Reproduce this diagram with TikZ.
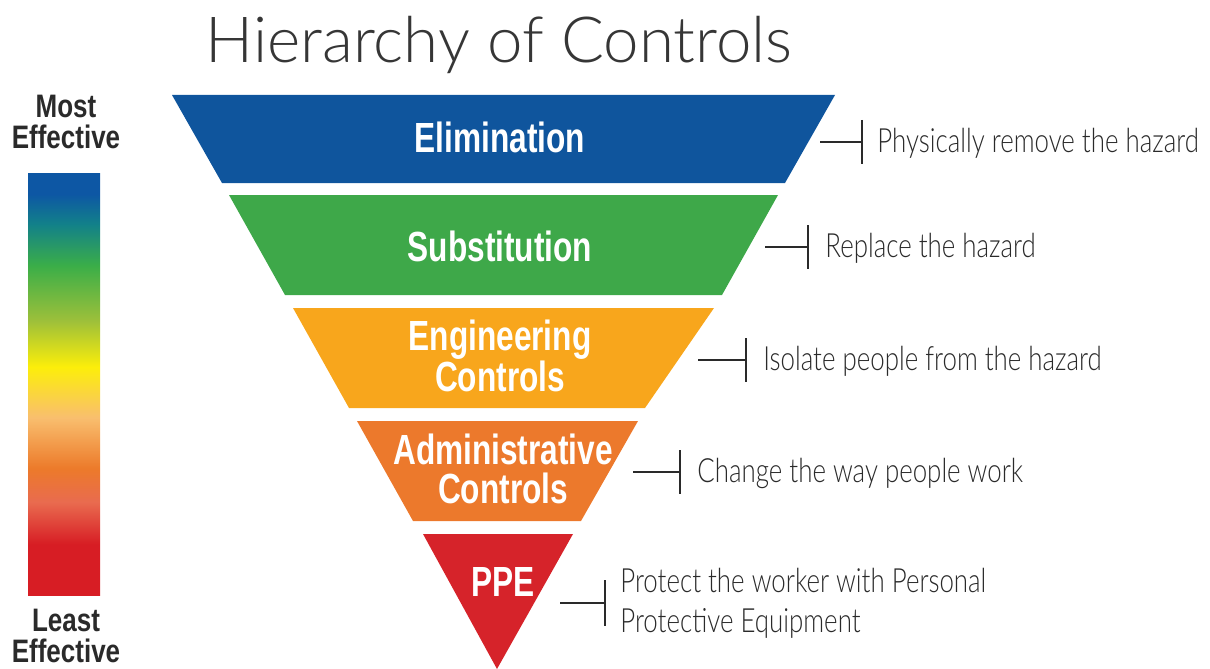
\documentclass[tikz,border=0pt]{standalone}
\usepackage{fontspec}
\setmainfont{Liberation Sans}
\newfontfamily\titlefont{Lato Light}
\newfontfamily\bandfont[FakeStretch = 0.75]{Liberation Sans}
\newfontfamily\sidefont[FakeStretch = 0.8]{Liberation Sans}
\newfontfamily\descfont[FakeStretch = 0.775]{Lato Light}

\definecolor{elimblue}{HTML}{0F559D}
\definecolor{substgreen}{HTML}{3EA849}
\definecolor{enggold}{HTML}{F8A61C}
\definecolor{adminorange}{HTML}{EC792C}
\definecolor{ppered}{HTML}{D6232A}
\definecolor{titlegray}{HTML}{363636}
\definecolor{sidegray}{HTML}{2A2A2A}
\definecolor{bracketgray}{HTML}{2A2A2A}

\definecolor{barblue}{HTML}{0D57A4}
\definecolor{barteal}{HTML}{12808A}
\definecolor{bargreen}{HTML}{3BAE48}
\definecolor{barlime}{HTML}{9DC03A}
\definecolor{baryellow}{HTML}{FCEE0A}
\definecolor{barlight}{HTML}{F9BE6E}
\definecolor{barorange}{HTML}{EC7A2A}
\definecolor{barsalmon}{HTML}{E96B4F}
\definecolor{barred}{HTML}{D71D24}

\pgfdeclareverticalshading{effectiveness}{100bp}{%
  color(0bp)=(barred); color(31bp)=(barred); color(36bp)=(barsalmon);
  color(40bp)=(barorange); color(46bp)=(barlight); color(52bp)=(baryellow);
  color(57.5bp)=(barlime); color(64bp)=(bargreen); color(69bp)=(barteal);
  color(72.5bp)=(barblue); color(100bp)=(barblue)}

\tikzset{
  band/.style    = {text = white, font = \bandfont\bfseries\fontsize{24}{22}\selectfont,
                    align = center, inner sep = 0},
  side/.style    = {text = sidegray, font = \descfont\fontsize{19}{22.7}\selectfont,
                    anchor = west, align = left, inner sep = 0},
  effect/.style  = {text = sidegray, font = \sidefont\bfseries\fontsize{18.5}{18}\selectfont,
                    align = center, inner sep = 0},
  bracket/.style = {draw = bracketgray, line width = 0.8pt}
}

\begin{document}
\begin{tikzpicture}[x = 0.02cm, y = -0.02cm]
        \useasboundingbox (0, 0) rectangle (1210, 669);

        % ------------------------------------------------------------------------
        % Title
        \node[text = titlegray, font = \titlefont\fontsize{36.2}{36}\selectfont,
              anchor = base, inner sep = 0] at (499, 63) (title) {Hierarchy of Controls};

        % ------------------------------------------------------------------------
        % Effectiveness bar
        \node[effect] at (66, 122) (most)  {Most\\Effective};
        \node[effect] at (66, 636) (least) {Least\\Effective};

        \shade[shading = effectiveness] (28, 173) rectangle (100, 595);

        % ------------------------------------------------------------------------
        % Bands of the inverted triangle
        \fill[elimblue]    (172,  95) -- (835,  95) -- (785, 183) -- (222, 183) -- cycle;
        \fill[substgreen]  (229, 195) -- (778, 195) -- (722, 295) -- (285, 295) -- cycle;
        \fill[enggold]     (293, 308) -- (714, 308) -- (645, 408) -- (349, 408) -- cycle;
        \fill[adminorange] (357, 421) -- (638, 421) -- (581, 521) -- (413, 521) -- cycle;
        \fill[ppered]      (423, 534) -- (573, 534) -- (497, 669) -- cycle;

        \node[band] at (500, 137) (elim)  {Elimination};
        \node[band] at (500, 246) (subst) {Substitution};
        \node[band] at (500, 356) (eng)   {Engineering\\Controls};
        \node[band] at (503, 469) (admin) {Administrative\\Controls};
        \node[band] at (503, 582) (ppe)   {PPE};

        % ------------------------------------------------------------------------
        % Descriptions
        \node[side] at (877, 143) (elim-txt)  {Physically remove the hazard};
        \node[side] at (825, 248) (subst-txt) {Replace the hazard};
        \node[side] at (763, 361) (eng-txt)   {Isolate people from the hazard};
        \node[side] at (697, 473) (admin-txt) {Change the way people work};
        \node[side] at (620, 603) (ppe-txt)   {Protect the worker with Personal\\Protective Equipment};

        \coordinate (elim-r)  at (820, 142);
        \coordinate (subst-r) at (765, 247);
        \coordinate (eng-r)   at (698, 360);
        \coordinate (admin-r) at (633, 472);
        \coordinate (ppe-r)   at (560, 603);

        \coordinate (elim-k)  at (862, 142);
        \coordinate (subst-k) at (808, 247);
        \coordinate (eng-k)   at (746, 360);
        \coordinate (admin-k) at (680, 472);
        \coordinate (ppe-k)   at (605, 603);

        \draw[bracket]
          (elim-r)  -- (elim-k)  ++(0, -22) -- ++(0, 44)
          (subst-r) -- (subst-k) ++(0, -22) -- ++(0, 44)
          (eng-r)   -- (eng-k)   ++(0, -22) -- ++(0, 44)
          (admin-r) -- (admin-k) ++(0, -22) -- ++(0, 44)
          (ppe-r)   -- (ppe-k)   ++(0, -23) -- ++(0, 46)
        ;
      \end{tikzpicture}
\end{document}
